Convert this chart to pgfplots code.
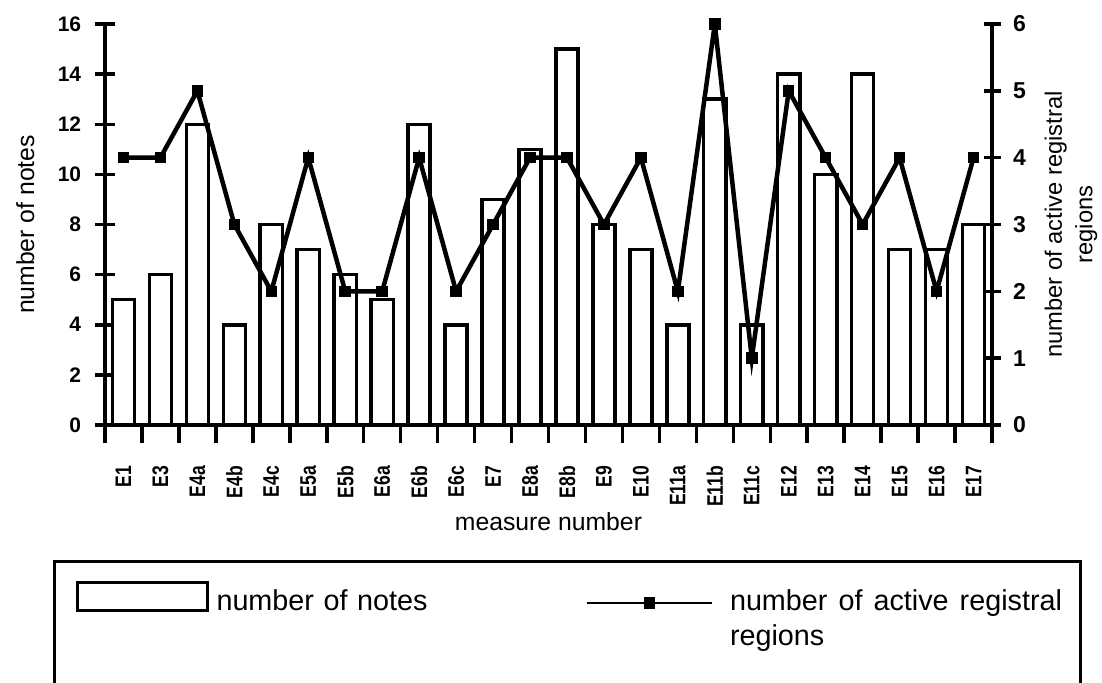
\documentclass[border=0pt]{standalone}
\usepackage{pgfplots}
\pgfplotsset{compat=1.18}
\usepackage{fontspec}
\setmainfont{Liberation Sans}
\newfontfamily\condfont[FakeStretch=0.78]{Liberation Sans}

% 1 px of the reference = 0.4pt, axis origin at px (105,425)
\begin{document}
\begin{tikzpicture}
\begin{axis}[
    scale only axis,
    width=354.8pt, height=160.4pt,
    xmin=-0.5, xmax=23.5, ymin=0, ymax=16,
    axis y line*=left, axis x line*=bottom,
    axis line style={line width=1.8pt, -},
    /pgf/number format/assume math mode=true,
    xtick={0,...,23},
    xticklabels={E1,E3,E4a,E4b,E4c,E5a,E5b,E6a,E6b,E6c,E7,E8a,E8b,E9,E10,E11a,E11b,E11c,E12,E13,E14,E15,E16,E17},
    major x tick style={draw=none},
    minor xtick={-0.5,0.5,...,23.5},
    ytick={0,2,...,16},
    tick align=center,
    major tick length=8pt, minor tick length=7.2pt,
    every tick/.style={line width=1.4pt, black},
    xticklabel style={rotate=90, anchor=east, font=\condfont\bfseries\fontsize{9}{10}\selectfont},
    xticklabel shift=4.8pt,
    yticklabel style={font=\bfseries\fontsize{8.4}{10}\selectfont},
    yticklabel shift=2pt,
    ylabel={number of notes},
    ylabel style={at={(rel axis cs:-0.09,0.5)}, anchor=center, font=\fontsize{9.9}{12}\selectfont},
    xlabel={measure number},
    xlabel style={at={(rel axis cs:0.5,-0.242)}, anchor=center, font=\fontsize{9.9}{12}\selectfont},
    ybar, bar width=0.6,
]
\addplot[fill=white, draw=black, line width=1.4pt] coordinates {
    (0,5) (1,6) (2,12) (3,4) (4,8) (5,7) (6,6) (7,5) (8,12) (9,4) (10,9) (11,11)
    (12,15) (13,8) (14,7) (15,4) (16,13) (17,4) (18,14) (19,10) (20,14) (21,7) (22,7) (23,8)
};
\end{axis}

\begin{axis}[
    scale only axis,
    width=354.8pt, height=160.4pt,
    xmin=-0.5, xmax=23.5, ymin=0, ymax=6,
    axis y line*=right, axis x line=none,
    axis line style={line width=1.8pt, -},
    /pgf/number format/assume math mode=true,
    ytick={0,...,6},
    tick align=center, major tick length=6.8pt,
    every tick/.style={line width=1.4pt, black},
    yticklabel style={font=\bfseries\fontsize{9.2}{10}\selectfont},
    yticklabel shift=1.5pt,
    ylabel={number of active registral\\regions},
    ylabel style={at={(rel axis cs:1.089,0.5)}, anchor=center, align=center,
        font=\fontsize{9.5}{12.2}\selectfont},
    legend columns=2,
    legend style={at={(rel axis cs:-0.0338,-0.389)}, anchor=north west, draw=none,
        fill=none, inner sep=0pt, font=\fontsize{11.5}{14}\selectfont,
        nodes={anchor=base west, inner xsep=3.2pt, inner ysep=0pt},
        /tikz/every even column/.append style={column sep=0pt}},
]
\addlegendimage{legend image code/.code={\draw[line width=1.2pt] (0pt,0pt) rectangle (52pt,11.2pt);}}
\addlegendentry[text width=144.4pt]{number of notes}
\addplot[black, line width=1.8pt, mark=square*, mark size=2.1pt, mark options={line width=0.4pt},
    legend image code/.code={\draw[line width=1pt, mark repeat=2, mark phase=2]
        plot coordinates {(0pt,3.2pt) (25pt,3.2pt) (50pt,3.2pt)};
        \path (53.2pt,0pt);}]
    coordinates {
    (0,4) (1,4) (2,5) (3,3) (4,2) (5,4) (6,2) (7,2) (8,4) (9,2) (10,3) (11,4)
    (12,4) (13,3) (14,4) (15,2) (16,6) (17,1) (18,5) (19,4) (20,3) (21,4) (22,2) (23,4)
};
\addlegendentry[text width=132.8pt, align=justify]{number of active registral\linebreak regions}
\end{axis}

% legend frame, its lower edge lies below the cut of the page
\draw[line width=1.2pt] (-20pt,-54.4pt) rectangle (390pt,-130pt);

\pgfresetboundingbox
\path[use as bounding box] (-42pt,-102.8pt) rectangle (398.8pt,170pt);
\end{tikzpicture}
\end{document}
